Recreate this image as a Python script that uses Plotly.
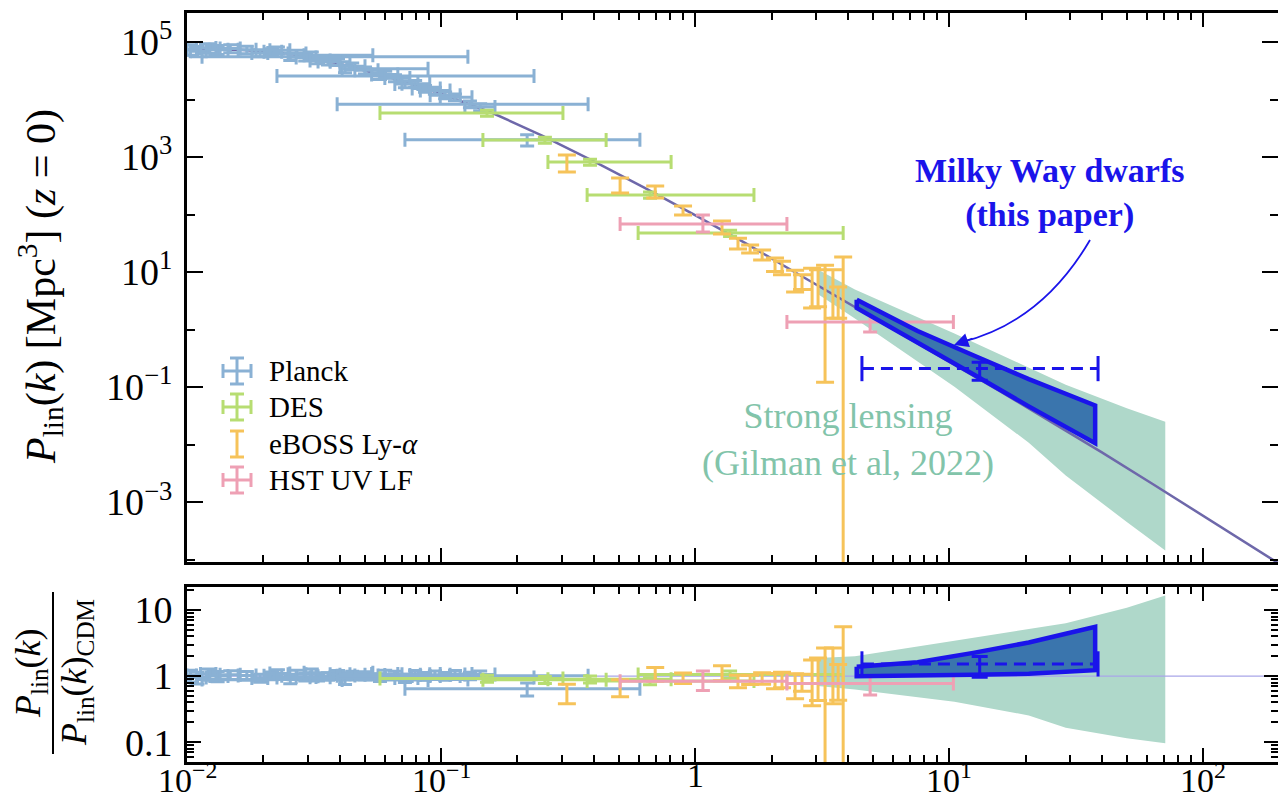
import numpy as np
import plotly.graph_objects as go

# ---------------- data ----------------
theory_k = [0.01, 0.01585, 0.02512, 0.03981, 0.0631, 0.1, 0.1585, 0.2512, 0.3981, 0.631,
            1.0, 1.585, 2.512, 3.981, 6.31, 10.0, 15.85, 25.12, 39.81, 63.1, 100.0, 199.5]
theory_P = [72400, 74100, 63100, 41700, 24000, 12600, 5890, 2340, 851, 295,
            97.7, 31.6, 9.55, 2.95, 0.912, 0.282, 0.0851, 0.0251, 0.00741, 0.00209, 5.75e-4, 8.5e-5]

planck_k = [0.0103, 0.0110, 0.0121, 0.0132, 0.0148, 0.0172, 0.0194, 0.0216, 0.0228, 0.0255, 0.0271,
            0.0292, 0.0310, 0.0328, 0.0359, 0.0393, 0.0419, 0.0447, 0.0502, 0.0575, 0.0603, 0.0659,
            0.0721, 0.0791, 0.0865, 0.0946, 0.1038, 0.1135, 0.1300, 0.1426, 0.2183]
planck_P = [74100, 69200, 78500, 73500, 77300, 73600, 64600, 67600, 71600, 55600, 63100,
            53700, 58900, 47900, 45700, 45200, 34200, 38000, 32400, 25700, 27200, 23600,
            18600, 18750, 15500, 14300, 11900, 11000, 8300, 7400, 2000]
planck_err = [15000, 14000, 15000, 13000, 12000, 11000, 9000, 9000, 10000, 8000, 9000,
              7000, 8000, 6000, 6000, 6000, 5000, 5000, 4500, 3500, 3800, 3300,
              2600, 2600, 2100, 2000, 1600, 1500, 1100, 1000, 450]
planck_klo = [0.0100, 0.0103, 0.0113, 0.0123, 0.0135, 0.0159, 0.0180, 0.0201, 0.0212, 0.01146, 0.0250,
              0.0269, 0.0289, 0.0305, 0.0328, 0.0366, 0.0408, 0.0400, 0.0458, 0.0226, 0.0533, 0.0601,
              0.0658, 0.0702, 0.0770, 0.0829, 0.0906, 0.0993, 0.0390, 0.1242, 0.0721]
planck_khi = [0.0109, 0.0119, 0.0130, 0.0145, 0.0162, 0.0187, 0.0208, 0.0236, 0.0254, 0.1276, 0.0294,
              0.0322, 0.0539, 0.0366, 0.0400, 0.0438, 0.0889, 0.0502, 0.0565, 0.2323, 0.0676, 0.0754,
              0.0811, 0.0903, 0.0993, 0.1085, 0.1189, 0.1324, 0.3793, 0.1631, 0.6067]

des_k = [0.1517, 0.2564, 0.386, 0.665, 1.374]
des_P = [5820, 1977, 818, 219, 47.6]
des_err = [700, 240, 100, 27, 6]
des_klo = [0.0575, 0.1462, 0.2636, 0.376, 0.597]
des_khi = [0.302, 0.4467, 0.805, 1.706, 3.83]

eboss_k = [0.313, 0.507, 0.697, 0.897, 1.277, 1.476, 1.648, 1.837, 2.065, 2.20, 2.477, 2.637,
           2.89, 3.05, 3.25, 3.49, 3.66, 3.83]
eboss_P = [800, 326, 246, 120, 60.7, 31.6, 25.1, 19.8, 13.5, 12.0, 7.94, 7.0,
           5.5, 5.0, 4.0, 3.5, 3.2, 3.0]
eboss_hi = [1090, 432, 313, 141, 77.1, 38.9, 29.5, 24.2, 17.5, 15.5, 10.8, 9.0,
            11.7, 11.0, 13.2, 11.0, 5.5, 18.2]
eboss_lo = [550, 237, 194, 98, 45.8, 25.1, 21.4, 16.2, 10.2, 9.0, 4.5, 5.0,
            2.37, 2.5, 0.122, 1.58, 1.58, 1e-6]

hst_k = [1.074, 4.89]
hst_P = [68.4, 1.35]
hst_hi = [98.0, 2.01]
hst_lo = [49.7, 0.906]
hst_klo = [0.507, 2.30]
hst_khi = [2.30, 10.4]

# strong lensing band (ratio to CDM)
sl_k = [3.04, 4.26, 10.5, 20.6, 28.8, 50.1, 71.0]
sl_hi = [1.88, 2.0, 3.44, 5.1, 6.3, 10.9, 16.6]
sl_lo = [0.71, 0.63, 0.41, 0.254, 0.166, 0.115, 0.096]

# Milky Way dwarfs band (ratio to CDM)
mw_k = [4.33, 7.52, 12.45, 20.6, 28.8, 37.6]
mw_hi = [1.39, 1.62, 2.25, 3.24, 4.39, 5.58]
mw_lo = [1.0, 1.02, 1.05, 1.09, 1.16, 1.23]

# Milky Way dwarfs point
mwp_k = [13.2]
mwp_P = [0.21]
mwp_hi = [0.272]
mwp_lo = [0.132]
mwp_klo = [4.54]
mwp_khi = [38.6]

# tick labels
xt_vals = [0.01, 0.1, 1, 10, 100]
xt_text = ["10<sup>−2</sup>", "10<sup>−1</sup>", "1", "10<sup>1</sup>", "10<sup>2</sup>"]
yt_vals = [1e5, 1e3, 10, 0.1, 1e-3]
yt_text = ["10<sup>5</sup>", "10<sup>3</sup>", "10<sup>1</sup>", "10<sup>−1</sup>", "10<sup>−3</sup>"]
rt_vals = [10, 1, 0.1]
rt_text = ["10", "1", "0.1"]

# ---------------- helpers ----------------
lk_t = np.log10(theory_k)
lp_t = np.log10(theory_P)


def theory_at(k):
    return 10 ** np.interp(np.log10(np.asarray(k, float)), lk_t, lp_t)


W, H = 1278, 801
L, R, T, B = 187, 1278, 13, 762
XR = [-2, 2.295]


def px(x, y):
    return (x - L) / (R - L), (B - y) / (B - T)


C_PL = "#8AB1D4"
C_DES = "#B7DD72"
C_EB = "#F6C35A"
C_HST = "#EEA0B4"
C_SL = "#AFD8CA"
C_SLT = "#82C4AA"
C_MWF = "#3A75AD"
C_MW = "#1A14EA"
C_TH = "#6E68AA"
FONT = "Liberation Serif"

fig = go.Figure()


def add_points(k, P, ylo, yhi, color, xaxis, yaxis, klo=None, khi=None, ycap=7):
    k = np.asarray(k, float)
    P = np.asarray(P, float)
    ey = dict(type="data", symmetric=False, array=np.asarray(yhi) - P,
              arrayminus=P - np.asarray(ylo), color=color, thickness=3, width=ycap)
    kw = {}
    if klo is not None:
        kw["error_x"] = dict(type="data", symmetric=False, array=np.asarray(khi) - k,
                             arrayminus=k - np.asarray(klo), color=color, thickness=3, width=7)
    fig.add_trace(go.Scatter(x=k, y=P, mode="markers", marker=dict(size=1, color=color),
                             error_y=ey, xaxis=xaxis, yaxis=yaxis, showlegend=False,
                             hoverinfo="skip", **kw))


for panel in ("top", "bot"):
    xa, ya = ("x", "y") if panel == "top" else ("x2", "y2")

    def conv(k, v):
        return np.asarray(v, float) if panel == "top" else np.asarray(v, float) / theory_at(k)

    # strong lensing band
    if panel == "top":
        up = np.asarray(sl_hi) * theory_at(sl_k)
        lo = np.asarray(sl_lo) * theory_at(sl_k)
    else:
        up, lo = np.asarray(sl_hi), np.asarray(sl_lo)
    fig.add_trace(go.Scatter(x=list(sl_k) + list(sl_k)[::-1], y=list(up) + list(lo)[::-1],
                             fill="toself", fillcolor=C_SL, line=dict(width=0),
                             mode="lines", xaxis=xa, yaxis=ya, showlegend=False, hoverinfo="skip"))
    # theory
    if panel == "top":
        fig.add_trace(go.Scatter(x=theory_k, y=theory_P, mode="lines",
                                 line=dict(color=C_TH, width=2.5), xaxis=xa, yaxis=ya,
                                 showlegend=False, hoverinfo="skip"))
    else:
        fig.add_trace(go.Scatter(x=[theory_k[0], theory_k[-1]], y=[1, 1], mode="lines",
                                 line=dict(color="#A9A6E8", width=1.2), xaxis=xa, yaxis=ya,
                                 showlegend=False, hoverinfo="skip"))
    # data
    add_points(planck_k, conv(planck_k, planck_P),
               conv(planck_k, np.asarray(planck_P) - np.asarray(planck_err)),
               conv(planck_k, np.asarray(planck_P) + np.asarray(planck_err)),
               C_PL, xa, ya, planck_klo, planck_khi)
    add_points(des_k, conv(des_k, des_P),
               conv(des_k, np.asarray(des_P) - np.asarray(des_err)),
               conv(des_k, np.asarray(des_P) + np.asarray(des_err)),
               C_DES, xa, ya, des_klo, des_khi)
    add_points(eboss_k, conv(eboss_k, eboss_P), conv(eboss_k, eboss_lo), conv(eboss_k, eboss_hi),
               C_EB, xa, ya, ycap=9)
    add_points(hst_k, conv(hst_k, hst_P), conv(hst_k, hst_lo), conv(hst_k, hst_hi),
               C_HST, xa, ya, hst_klo, hst_khi)
    # Milky Way band
    if panel == "top":
        up = np.asarray(mw_hi) * theory_at(mw_k)
        lo = np.asarray(mw_lo) * theory_at(mw_k)
    else:
        up, lo = np.asarray(mw_hi), np.asarray(mw_lo)
    xs = list(mw_k) + list(mw_k)[::-1] + [mw_k[0]]
    ys = list(up) + list(lo)[::-1] + [up[0]]
    fig.add_trace(go.Scatter(x=xs, y=ys, fill="toself", fillcolor=C_MWF,
                             line=dict(color=C_MW, width=4.5), mode="lines",
                             xaxis=xa, yaxis=ya, showlegend=False, hoverinfo="skip"))
    # Milky Way point
    yv = conv(mwp_k, mwp_P)
    fig.add_trace(go.Scatter(x=[mwp_klo[0], mwp_khi[0]], y=[yv[0], yv[0]], mode="lines+markers",
                             line=dict(color=C_MW, width=3, dash="12px,7px"),
                             marker=dict(symbol="line-ns", size=18, line=dict(color=C_MW, width=3)),
                             xaxis=xa, yaxis=ya, showlegend=False, hoverinfo="skip"))
    add_points(mwp_k, yv, conv(mwp_k, mwp_lo), conv(mwp_k, mwp_hi), C_MW, xa, ya, ycap=8)

# ---------------- axes ----------------
xmin_ticks = [m * 10 ** e for e in range(-2, 3) for m in range(2, 10) if m * 10 ** e < 200]
axis_common = dict(type="log", showgrid=False, zeroline=False, showline=True, linecolor="black",
                   linewidth=3, mirror="allticks", ticks="inside", tickcolor="black", tickwidth=2,
                   automargin=False,
                   tickfont=dict(family=FONT, size=38, color="black"))

fig.update_layout(
    width=W, height=H, margin=dict(l=L, r=W - R, t=T, b=H - B, autoexpand=False),
    paper_bgcolor="white", plot_bgcolor="white",
    xaxis=dict(**axis_common, range=XR, anchor="y", tickvals=xt_vals, ticktext=xt_text,
               showticklabels=False, ticklen=14,
               minor=dict(tickvals=xmin_ticks, ticks="inside", ticklen=7, tickwidth=1.5,
                          tickcolor="black")),
    yaxis=dict(**axis_common, range=[-4.04, 5.504], domain=[(B - 562) / (B - T), 1], anchor="x",
               tickvals=yt_vals, ticktext=yt_text, ticklen=16, ticklabelstandoff=4,
               minor=dict(tickvals=[1e4, 1e2, 1, 1e-2, 1e-4], ticks="inside", ticklen=8,
                          tickwidth=2, tickcolor="black")),
    xaxis2=dict(**axis_common, range=XR, anchor="y2", tickvals=xt_vals, ticktext=xt_text,
                ticklen=14, matches="x", showticklabels=False,
                minor=dict(tickvals=xmin_ticks, ticks="inside", ticklen=7, tickwidth=1.5,
                           tickcolor="black")),
    yaxis2=dict(**axis_common, range=[-1.30, 1.35], domain=[0, (B - 587) / (B - T)], anchor="x2",
                tickvals=rt_vals, ticktext=rt_text, ticklen=14, ticklabelstandoff=4,
                minor=dict(tickvals=[m * 10 ** e for e in (-2, -1, 0, 1) for m in range(2, 10)],
                           ticks="inside", ticklen=7, tickwidth=1.5, tickcolor="black")),
)

# ---------------- annotations / labels ----------------
ann = []
shapes = []


def text(x, y, s, size=30, color="black", angle=0, anchor="center", bold=False, yanchor="middle"):
    xp, yp = px(x, y)
    if bold:
        s = "<b>" + s + "</b>"
    ann.append(dict(x=xp, y=yp, xref="paper", yref="paper", text=s, showarrow=False,
                    textangle=angle, xanchor=anchor, yanchor=yanchor,
                    font=dict(family=FONT, size=size, color=color)))


# x tick labels (as annotations, positioned from the tick values)
for v, s in zip(xt_vals, xt_text):
    xp = (np.log10(v) - XR[0]) / (XR[1] - XR[0])
    ann.append(dict(x=xp, y=0, xref="paper", yref="paper", text=s, showarrow=False,
                    xanchor="center", yanchor="top", yshift=7,
                    font=dict(family=FONT, size=34, color="black")))

# y titles
text(40, 287, "<i>P</i><sub>lin</sub>(<i>k</i>) [Mpc<sup>3</sup>] (<i>z</i> = 0)", size=42, angle=-90)
text(30, 673, "<i>P</i><sub>lin</sub>(<i>k</i>)", size=36, angle=-90)
text(76, 673, "<i>P</i><sub>lin</sub>(<i>k</i>)<sub>CDM</sub>", size=36, angle=-90)
x0, y0 = px(53, 592)
x1, y1 = px(53, 754)
shapes.append(dict(type="line", xref="paper", yref="paper", x0=x0, y0=y0, x1=x1, y1=y1,
                   line=dict(color="black", width=2)))

# strong lensing label
text(848, 440, "Strong lensing<br>(Gilman et al, 2022)", size=36, color=C_SLT)
# MW label
text(1050, 193, "Milky Way dwarfs<br>(this paper)", size=34, color=C_MW, bold=True)

# curved arrow
a0 = px(1090, 240)
ac = px(1042, 322)
a1 = px(962, 342)
shapes.append(dict(type="path", xref="paper", yref="paper",
                   path=f"M {a0[0]},{a0[1]} Q {ac[0]},{ac[1]} {a1[0]},{a1[1]}",
                   line=dict(color=C_MW, width=1.8)))
tip = px(954, 345)
ann.append(dict(x=tip[0], y=tip[1], xref="paper", yref="paper", text="", showarrow=True,
                ax=20, ay=-7, arrowhead=2, arrowsize=1.6, arrowwidth=1.8, arrowcolor=C_MW,
                standoff=0))

# legend
leg = [("Planck", C_PL, True, 371), ("DES", C_DES, True, 407),
       ("eBOSS Ly-<i>α</i>", C_EB, False, 444), ("HST UV LF", C_HST, True, 480)]
for name, col, cross, yc in leg:
    xc = 237

    def seg(xa_, ya_, xb_, yb_):
        p0 = px(xa_, ya_)
        p1 = px(xb_, yb_)
        shapes.append(dict(type="line", xref="paper", yref="paper", x0=p0[0], y0=p0[1],
                           x1=p1[0], y1=p1[1], line=dict(color=col, width=3)))

    seg(xc, yc - 13, xc, yc + 13)
    seg(xc - 7, yc - 13, xc + 7, yc - 13)
    seg(xc - 7, yc + 13, xc + 7, yc + 13)
    if cross:
        seg(xc - 14, yc, xc + 14, yc)
        seg(xc - 14, yc - 7, xc - 14, yc + 7)
        seg(xc + 14, yc - 7, xc + 14, yc + 7)
    text(267, yc, name, size=29, anchor="left")

fig.update_layout(annotations=ann, shapes=shapes)
fig.write_html("out.html")
